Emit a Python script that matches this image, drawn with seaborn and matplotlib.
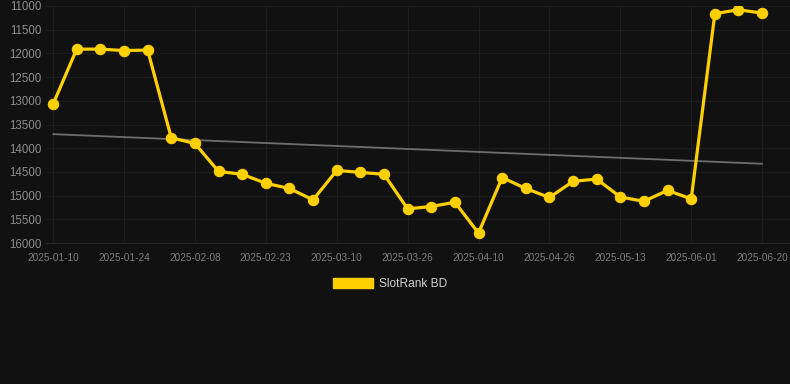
import numpy as np
import pandas as pd
import seaborn as sns
import matplotlib.pyplot as plt
from matplotlib.patches import Patch

# data (rank, lower is better, axis inverted)
dates = ["2025-01-10", "2025-01-15", "2025-01-19", "2025-01-24", "2025-01-29",
         "2025-02-03", "2025-02-08", "2025-02-13", "2025-02-18", "2025-02-23",
         "2025-02-28", "2025-03-05", "2025-03-10", "2025-03-15", "2025-03-21",
         "2025-03-26", "2025-03-31", "2025-04-05", "2025-04-10", "2025-04-15",
         "2025-04-21", "2025-04-26", "2025-05-02", "2025-05-07", "2025-05-13",
         "2025-05-19", "2025-05-26", "2025-06-01", "2025-06-07", "2025-06-14",
         "2025-06-20"]
rank = [13070, 11910, 11910, 11940, 11930, 13780, 13900, 14490, 14550, 14740,
        14850, 15090, 14470, 14510, 14550, 15280, 15230, 15140, 15790, 14620,
        14850, 15040, 14700, 14650, 15030, 15120, 14890, 15070, 11160, 11080,
        11150]
series_name = "SlotRank BD"
yticks = [11000, 11500, 12000, 12500, 13000, 13500, 14000, 14500, 15000, 15500, 16000]

df = pd.DataFrame({"date": dates, "rank": rank, "pos": np.arange(len(dates))})

# linear trend over the series
coef = np.polyfit(df["pos"], df["rank"], 1)
df["trend"] = np.polyval(coef, df["pos"])

sns.set_theme(style="dark")
plt.rcParams["font.family"] = ["Liberation Sans", "DejaVu Sans"]

bg = "#111111"
gold = "#FFD000"

fig = plt.figure(figsize=(7.9, 3.84), dpi=100, facecolor=bg)
ax = fig.add_axes([46 / 790, 141 / 384, 744 / 790, 237 / 384])
ax.set_facecolor(bg)

sns.lineplot(data=df, x="pos", y="trend", ax=ax, color="#6e6e6e", linewidth=1.3)
sns.lineplot(data=df, x="pos", y="rank", ax=ax, color=gold, linewidth=2.3,
             marker="o", markersize=7.5, markeredgecolor=gold)

ax.set_ylim(16000, 11000)
ax.set_xlim(-0.3, len(dates) - 1 + 1.18)
ax.set_yticks(yticks)
ax.set_yticklabels([str(v) for v in yticks], fontsize=8.3, color="#8e8e8e")
ax.set_xticks(range(0, len(dates), 3))
ax.set_xticklabels(dates[::3], fontsize=7.2, color="#7e7e7e")
ax.tick_params(axis="y", length=0, pad=3)
ax.tick_params(axis="x", length=4, width=0.8, color="#1d1d1d", pad=3, direction="out")
ax.grid(True, color="#1d1d1d", linewidth=0.8)
ax.set_xlabel("")
ax.set_ylabel("")
for s in ax.spines.values():
    s.set_visible(False)
ax.spines["bottom"].set_visible(True)
ax.spines["bottom"].set_color("#272727")
ax.spines["bottom"].set_linewidth(0.8)

fig.legend(handles=[Patch(facecolor=gold, edgecolor=gold)], labels=[series_name],
           loc="center", bbox_to_anchor=(390 / 790, 100 / 384), frameon=False,
           fontsize=8.6, labelcolor="#d0d0d0", handlelength=3.4, handleheight=0.9,
           handletextpad=0.5)

fig.savefig("out.png", dpi=100, facecolor=bg)
